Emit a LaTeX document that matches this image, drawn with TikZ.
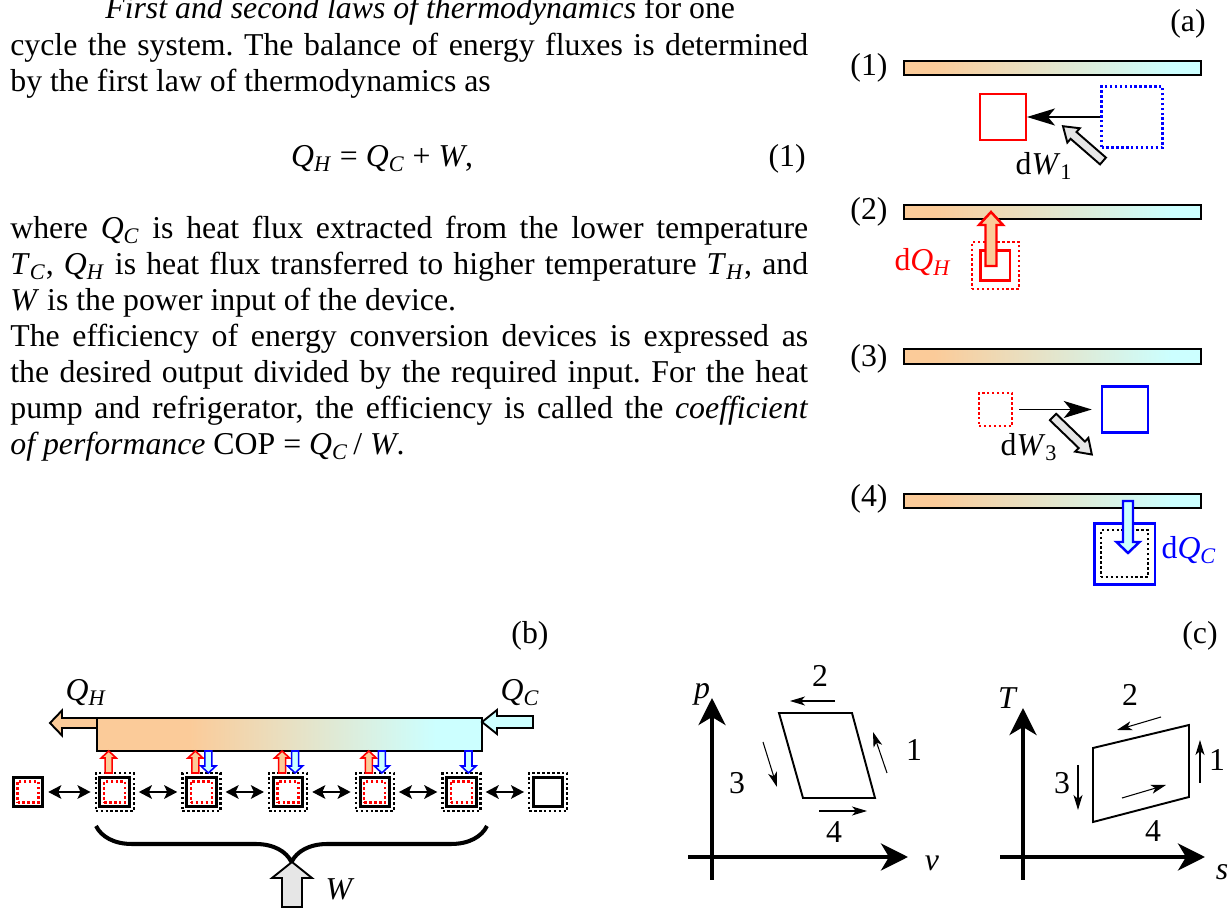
\documentclass[tikz,border=0pt]{standalone}
\usepackage{fontspec}
\setmainfont{Liberation Serif}
\usetikzlibrary{arrows.meta,decorations.pathreplacing}

\definecolor{hot}{RGB}{251,203,153}
\definecolor{cold}{RGB}{204,255,255}
\definecolor{pale}{RGB}{230,230,230}
\pgfdeclarehorizontalshading{heatbar}{100bp}{color(0bp)=(hot); color(30bp)=(hot); color(70bp)=(cold); color(100bp)=(cold)}
\pgfdeclarehorizontalshading{longbar}{100bp}{color(0bp)=(hot); color(37bp)=(hot); color(69bp)=(cold); color(100bp)=(cold)}

\newcommand{\txtsize}{\fontsize{18.1pt}{20pt}\selectfont\frenchspacing}
\newcommand{\qsub}[2]{\textit{#1}\textsubscript{\textit{#2}}}
\newcommand{\jline}[1]{\makebox[15.96cm][s]{#1}}
% block arrow: style, tail x, tail y, angle, length, shaft half width, head half width, head length
\newcommand{\fatarrow}[8]{\draw[#1,shift={(#2,#3)},rotate=#4] (0,-#6) -- ({#5-#8},-#6) -- ({#5-#8},-#7) -- (#5,0) -- ({#5-#8},#7) -- ({#5-#8},#6) -- (0,#6) -- cycle;}

\tikzset{
  txt/.style={anchor=base west},
  bar/.style={draw,line width=0.9pt,shade,shading=heatbar,minimum width=5.94cm,minimum height=0.29cm},
  longbarbox/.style={draw,line width=0.9pt,shade,shading=longbar,minimum width=7.7cm,minimum height=0.66cm},
  dotline/.style={line width=1.3pt,dash pattern=on 1.4pt off 1.4pt},
  cellbox/.style={draw,line width=1.7pt,minimum size=0.59cm},
  cellout/.style={draw,dotline,minimum size=0.76cm},
  cellin/.style={draw=red,dotline,minimum size=0.42cm},
  blk/.style={line width=1.1pt,-{Stealth[length=0.56cm,width=0.34cm,inset=0.14cm]}},
  dbl/.style={line width=1.6pt,{Stealth[length=0.26cm,width=0.27cm,inset=0.06cm]}-{Stealth[length=0.26cm,width=0.27cm,inset=0.06cm]},shorten <=0.08cm,shorten >=0.08cm},
  axis/.style={line width=2.3pt,-{Stealth[length=0.54cm,width=0.54cm,inset=0.16cm]}},
  cyc/.style={line width=1.1pt,line join=miter},
  sm/.style={line width=0.6pt,-{Stealth[length=0.3cm,width=0.18cm,inset=0.08cm]}},
  grayarr/.style={draw,fill=pale,line width=1.1pt},
  hotarr/.style={draw=red,fill=hot,line width=1.4pt},
  coldarr/.style={draw=blue,fill=cold,line width=1.4pt},
  hotend/.style={draw,fill=hot,line width=1.1pt},
  coldend/.style={draw,fill=cold,line width=1.1pt},
  hotsm/.style={draw=red,fill=hot,line width=0.9pt},
  coldsm/.style={draw=blue,fill=cold,line width=0.9pt}
}

\begin{document}
\begin{tikzpicture}[x=0.02cm,y=-0.02cm,every node/.style={font=\txtsize,inner sep=0pt}]
\useasboundingbox (0,0) rectangle (1232,908);
% text column
\node[txt] (t1) at (105,19) {\textit{First and second laws of thermodynamics} for one};
\node[txt] (t2) at (10,56) {\jline{cycle the system. The balance of energy fluxes is determined}};
\node[txt] (t3) at (10,92) {by the first law of thermodynamics as};
\node[anchor=base] (eq) at (382,167) {\qsub{Q}{H} = \qsub{Q}{C} + \textit{W},};
\node[anchor=base east] (eqn) at (806,167) {(1)};
\node[txt] (t4) at (10,239) {\jline{where \qsub{Q}{C} is heat flux extracted from the lower temperature}};
\node[txt] (t5) at (10,275) {\jline{\qsub{T}{C}, \qsub{Q}{H} is heat flux transferred to higher temperature \qsub{T}{H}, and}};
\node[txt] (t6) at (10,311) {\textit{W} is the power input of the device.};
\node[txt] (t7) at (10,347) {\jline{The efficiency of energy conversion devices is expressed as}};
\node[txt] (t8) at (10,383) {\jline{the desired output divided by the required input. For the heat}};
\node[txt] (t9) at (10,419) {\jline{pump and refrigerator, the efficiency is called the \textit{coefficient}}};
\node[txt] (t10) at (10,455) {\textit{of performance} COP = \qsub{Q}{C}\,/ \textit{W}.};
% (a) the four steps
\node (labA) at (1188,24) {(a)};
\node[bar] (bar1) at (1052.5,68) {};\node (s1) at (869,68) {(1)};
\node[draw=red,line width=1.1pt,minimum size=0.92cm] (red1) at (1003,117) {};
\node[draw=blue,dotline,minimum size=1.22cm] (blue1) at (1132,117) {};
\draw[blk] (blue1.west) -- (red1.east);
\fatarrow{grayarr}{1103}{161}{139}{53}{4.5}{9.5}{14}
\node (dw1) at (1044,166) {d\textit{W}\textsubscript{1}};
\node[bar] (bar2) at (1052.5,212) {};\node (s2) at (869,212) {(2)};
\node[draw=red,dotline,minimum size=0.94cm] (redd2) at (995.5,265.5) {};
\node[draw=red,line width=1.7pt,minimum size=0.6cm] (red2) at (995,265.5) {};
\fatarrow{hotarr}{991}{266}{90}{54}{5.5}{12}{13}
\node[text=red] (dqh) at (923,262) {d\qsub{Q}{H}};
\node[bar] (bar3) at (1052.5,356.5) {};\node (s3) at (869,359) {(3)};
\node[draw=red,dotline,minimum size=0.66cm] (redd3) at (995.5,409.5) {};
\node[draw=blue,line width=1.4pt,minimum size=0.92cm] (blue3) at (1125,409.5) {};
\draw[blk,shorten <=0.12cm,shorten >=0.18cm] (redd3.east) -- (blue3.west);
\fatarrow{grayarr}{1053}{417}{-44}{54}{4.5}{9.5}{14}
\node (dw3) at (1029,447) {d\textit{W}\textsubscript{3}};
\node[bar] (bar4) at (1052.5,501) {};\node (s4) at (869,499) {(4)};
\node[draw=blue,line width=1.7pt,minimum size=1.22cm] (blue4) at (1124.5,554) {};
\node[draw=black,dotline,minimum size=0.94cm] (blk4) at (1124.5,553.5) {};
\fatarrow{coldarr}{1128}{501}{-90}{52}{5}{11.5}{11}
\node[text=blue] (dqc) at (1189,550) {d\qsub{Q}{C}};
% (b) chain of cells under one long bar
\node (labB) at (530,636) {(b)};
\node[longbarbox] (barB) at (289.5,734.5) {};
\fatarrow{hotend}{97}{723}{180}{47}{5}{12.5}{12}
\fatarrow{coldend}{533}{722}{180}{51}{6}{12}{15}
\node (qh) at (86,693) {\qsub{Q}{H}};
\node (qc) at (520,693) {\qsub{Q}{C}};
\node[cellbox] (c1) at (28,792) {};\node[cellin] (i1) at (28,792) {};
\node[cellout] (o2) at (114.7,792) {};\node[cellbox] (c2) at (114.7,792) {};\node[cellin] (i2) at (114.7,792) {};
\node[cellout] (o3) at (201.4,792) {};\node[cellbox] (c3) at (201.4,792) {};\node[cellin] (i3) at (201.4,792) {};
\node[cellout] (o4) at (288.1,792) {};\node[cellbox] (c4) at (288.1,792) {};\node[cellin] (i4) at (288.1,792) {};
\node[cellout] (o5) at (374.8,792) {};\node[cellbox] (c5) at (374.8,792) {};\node[cellin] (i5) at (374.8,792) {};
\node[cellout] (o6) at (461.5,792) {};\node[cellbox] (c6) at (461.5,792) {};\node[cellin] (i6) at (461.5,792) {};
\node[cellout] (o7) at (548.2,792) {};\node[cellbox] (c7) at (548.2,792) {};
\draw[dbl] (c1.east) -- (o2.west);
\draw[dbl] (o2.east) -- (o3.west);
\draw[dbl] (o3.east) -- (o4.west);
\draw[dbl] (o4.east) -- (o5.west);
\draw[dbl] (o5.east) -- (o6.west);
\draw[dbl] (o6.east) -- (o7.west);
\fatarrow{hotsm}{108.7}{773}{90}{22}{3.5}{7.5}{7}
\fatarrow{hotsm}{195.4}{773}{90}{22}{3.5}{7.5}{7}
\fatarrow{hotsm}{282.1}{773}{90}{22}{3.5}{7.5}{7}
\fatarrow{hotsm}{368.8}{773}{90}{22}{3.5}{7.5}{7}
\fatarrow{coldsm}{208.4}{751}{-90}{22}{3.5}{7.5}{7}
\fatarrow{coldsm}{295.1}{751}{-90}{22}{3.5}{7.5}{7}
\fatarrow{coldsm}{381.8}{751}{-90}{22}{3.5}{7.5}{7}
\fatarrow{coldsm}{468.5}{751}{-90}{22}{3.5}{7.5}{7}
\draw[line width=2.3pt,decorate,decoration={brace,mirror,amplitude=0.72cm}] (96,826) -- (487,826);
\fatarrow{grayarr}{292}{907}{90}{45}{10}{20}{16}
\node (wl) at (340,889) {\textit{W}};
% (c) p-v and T-s cycles
\node (labC) at (1200,636) {(c)};
\draw[axis] (712,880) -- (712,698);\draw[axis] (688,857) -- (908,857);
\node (pl) at (702,694) {\textit{p}};\node (vl) at (932,863) {\textit{v}};
\draw[cyc] (779,713) -- (852,713) -- (875,798) -- (803,798) -- cycle;
\draw[sm] (835,701) -- (790,701);\node (pv2) at (820,676) {2};
\draw[sm] (887,773) -- (873,732);\node (pv1) at (914,750) {1};
\draw[sm] (763,742) -- (777,787);\node (pv3) at (737,783) {3};
\draw[sm] (819,811) -- (867,811);\node (pv4) at (834,832) {4};
\draw[axis] (1023,880) -- (1023,708);\draw[axis] (1000,857) -- (1205,857);
\node (tl) at (1008,698) {\textit{T}};\node (sl) at (1222,872) {\textit{s}};
\draw[cyc] (1093,748) -- (1189,725) -- (1189,797) -- (1093,822) -- cycle;
\draw[sm] (1161,717) -- (1117,730);\node (ts2) at (1130,695) {2};
\draw[sm] (1200,783) -- (1200,740);\node (ts1) at (1217,760) {1};
\draw[sm] (1078,765) -- (1078,810);\node (ts3) at (1062,783) {3};
\draw[sm] (1122,798) -- (1166,785);\node (ts4) at (1153,831) {4};
\end{tikzpicture}
\end{document}
